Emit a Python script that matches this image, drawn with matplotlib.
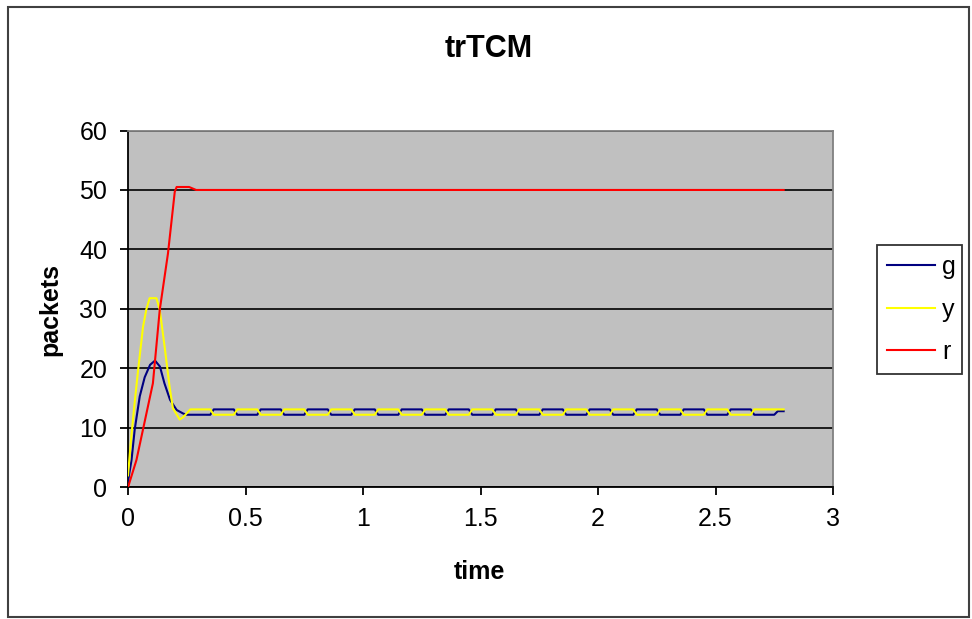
import matplotlib
matplotlib.use("Agg")
import matplotlib.pyplot as plt
from matplotlib.patches import Rectangle

plt.rcParams['font.family'] = ['Liberation Sans', 'DejaVu Sans']

# ---- data ----
# transient part: (time, value)
g_t = [0.0, 0.015, 0.0285, 0.05, 0.071, 0.094, 0.115, 0.136, 0.155, 0.179, 0.207, 0.235, 0.25]
g_v = [1.0, 4.6, 9.7, 15.3, 18.5, 20.6, 21.3, 20.3, 17.5, 14.7, 13.0, 12.4, 12.2]

y_t = [0.0, 0.014, 0.028, 0.043, 0.064, 0.078, 0.092, 0.121, 0.135, 0.156, 0.177, 0.191, 0.22, 0.235]
y_v = [2.0, 8.5, 14.1, 19.7, 27.0, 29.9, 31.8, 31.8, 29.9, 23.6, 16.9, 13.3, 11.4, 11.8]

r_t = [0.0, 0.036, 0.106, 0.135, 0.170, 0.199, 0.207, 0.26, 0.29, 2.79]
r_v = [0.0, 4.6, 17.5, 29.8, 39.3, 49.7, 50.5, 50.5, 50.0, 50.0]

# steady-state oscillation: boundaries of 0.1-wide segments and level in each
seg_edges = [0.25, 0.35, 0.45, 0.55, 0.65, 0.75, 0.85, 0.95, 1.05, 1.15, 1.25, 1.35, 1.45,
             1.55, 1.65, 1.75, 1.85, 1.95, 2.05, 2.15, 2.25, 2.35, 2.45, 2.55, 2.65, 2.75, 2.79]
g_levels = [12.2, 13.1, 12.2, 13.1, 12.2, 13.1, 12.2, 13.1, 12.2, 13.1, 12.2, 13.1, 12.2,
            13.1, 12.2, 13.1, 12.2, 13.1, 12.2, 13.1, 12.2, 13.1, 12.2, 13.1, 12.2, 12.8]
y_levels = [13.1, 12.2, 13.1, 12.2, 13.1, 12.2, 13.1, 12.2, 13.1, 12.2, 13.1, 12.2, 13.1,
            12.2, 13.1, 12.2, 13.1, 12.2, 13.1, 12.2, 13.1, 12.2, 13.1, 12.2, 13.1, 13.1]
ramp = 0.015

x_ticks = [0, 0.5, 1, 1.5, 2, 2.5, 3]
x_labels = ["0", "0.5", "1", "1.5", "2", "2.5", "3"]
y_ticks = [0, 10, 20, 30, 40, 50, 60]

series_names = ["g", "y", "r"]
series_colors = ["#000080", "#FFFF00", "#FF0000"]


def build(t0, v0, levels):
    t, v = list(t0), list(v0)
    for i, lev in enumerate(levels):
        s, e = seg_edges[i], seg_edges[i + 1]
        t.append(min(s + ramp, e))
        v.append(lev)
        if e > s + ramp:
            t.append(e)
            v.append(lev)
    return t, v


gx, gy = build(g_t, g_v, g_levels)
yx, yy = build(y_t, y_v, y_levels)

fig = plt.figure(figsize=(9.72, 6.19), dpi=100)
W, H = 972, 619
ax = fig.add_axes([128 / W, 1 - 487.3 / H, (833 - 128) / W, (487.3 - 130.5) / H])
ax.set_facecolor("#C0C0C0")

ax.set_xlim(0, 3)
ax.set_ylim(0, 60)
ax.set_xticks(x_ticks)
ax.set_xticklabels(x_labels)
ax.set_yticks(y_ticks)
ax.yaxis.grid(True, color="black", linewidth=1.2)
ax.set_axisbelow(True)

for sp in ["left", "bottom"]:
    ax.spines[sp].set_color("black")
    ax.spines[sp].set_linewidth(1.3)
for sp in ["top", "right"]:
    ax.spines[sp].set_color("#808080")
    ax.spines[sp].set_linewidth(1.3)

ax.tick_params(axis="both", direction="out", length=6, width=1.3, color="black",
               labelsize=18)
ax.tick_params(axis="y", pad=9)
ax.tick_params(axis="x", pad=8)

lg, = ax.plot(gx, gy, color=series_colors[0], linewidth=1.5, label=series_names[0], zorder=3)
ly, = ax.plot(yx, yy, color=series_colors[1], linewidth=1.5, label=series_names[1], zorder=3)
lr, = ax.plot(r_t, r_v, color=series_colors[2], linewidth=1.5, label=series_names[2], zorder=4)

fig.text(489 / W, 1 - 57 / H, "trTCM", ha="center", va="baseline",
         fontsize=22, fontweight="bold")
fig.text(479 / W, 1 - 579 / H, "time", ha="center", va="baseline",
         fontsize=18, fontweight="bold")
fig.text(50 / W, 1 - 309 / H, "packets", ha="center", va="center", rotation=90,
         fontsize=18, fontweight="bold")

leg = fig.legend(handles=[lg, ly, lr], loc="upper left",
                 bbox_to_anchor=(877 / W, 1 - 372 / H, (962 - 877) / W, (372 - 245) / H),
                 bbox_transform=fig.transFigure, mode="expand",
                 fontsize=18, frameon=True, fancybox=False, borderpad=0.4,
                 handlelength=1.9, handletextpad=0.3, labelspacing=0.74,
                 borderaxespad=0)
leg.get_frame().set_edgecolor("black")
leg.get_frame().set_linewidth(1.3)

# outer chart border
fig.patches.append(Rectangle((7.5 / W, 1 - 616.5 / H), (969 - 7.5) / W, (616.5 - 7) / H,
                             transform=fig.transFigure, fill=False,
                             edgecolor="#404040", linewidth=1.5))

fig.savefig("out.png", dpi=100)
